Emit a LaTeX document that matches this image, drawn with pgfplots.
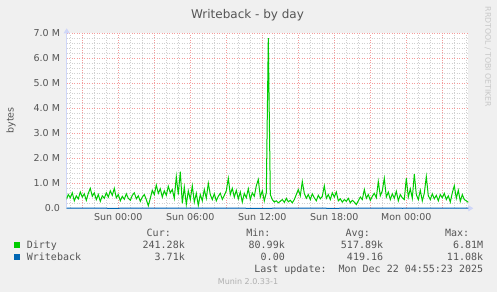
\documentclass[border=0pt]{standalone}
\usepackage{fontspec}
\setmainfont{DejaVu Sans}
\newfontfamily\mono{DejaVu Sans Mono}
\usepackage{pgfplots}
\usepackage{pgfplotstable}
\pgfplotsset{compat=1.18}
\usetikzlibrary{arrows.meta}
\definecolor{bg}{HTML}{F0F0F0}
\definecolor{fg}{HTML}{555555}
\definecolor{axc}{HTML}{CFD6F8}
\definecolor{dirty}{HTML}{00CC00}
\definecolor{wb}{HTML}{0066B3}
\definecolor{majgrid}{HTML}{F49C9C}
\definecolor{mingrid}{HTML}{D0D0D0}

% x = 10-minute steps, Sun 00:00 at 26 ; y in millions of bytes
\pgfplotstableread{
x y
0 0.35
1 0.55
2 0.42
3 0.62
4 0.30
5 0.50
6 0.38
7 0.65
8 0.45
9 0.58
10 0.32
11 0.60
12 0.80
13 0.48
14 0.62
15 0.35
16 0.55
17 0.28
18 0.50
19 0.40
20 0.62
21 0.45
22 0.70
23 0.52
24 0.80
25 0.42
26 0.55
27 0.30
28 0.48
29 0.36
30 0.58
31 0.40
32 0.32
33 0.52
34 0.62
35 0.38
36 0.50
37 0.28
38 0.45
39 0.55
40 0.35
41 0.10
42 0.40
43 0.72
44 0.55
45 0.93
46 0.60
47 0.78
48 0.45
49 0.70
50 0.52
51 0.88
52 0.62
53 0.75
54 0.40
55 1.27
56 0.55
57 1.47
58 0.20
59 0.85
60 0.15
61 0.70
62 0.35
63 0.90
64 0.25
65 0.60
66 0.12
67 0.55
68 0.30
69 0.75
70 0.40
71 1.00
72 0.55
73 0.35
74 0.58
75 0.30
76 0.48
77 0.60
78 0.36
79 0.52
80 0.70
81 1.20
82 0.55
83 0.80
84 0.45
85 0.72
86 0.38
87 0.65
88 0.25
89 0.60
90 0.42
91 0.78
92 0.35
93 0.62
94 0.48
95 0.90
96 1.15
97 0.45
98 0.70
99 0.30
100 0.62
101 6.81
102 0.55
103 0.35
104 0.25
105 0.30
106 0.22
107 0.28
108 0.35
109 0.24
110 0.40
111 0.26
112 0.32
113 0.22
114 0.35
115 0.55
116 0.75
117 0.50
118 1.07
119 0.60
120 0.40
121 0.55
122 0.35
123 0.58
124 0.42
125 0.30
126 0.52
127 0.38
128 0.48
129 0.90
130 0.40
131 0.55
132 0.35
133 0.62
134 0.45
135 0.65
136 0.30
137 0.38
138 0.25
139 0.35
140 0.28
141 0.40
142 0.22
143 0.32
144 0.25
145 0.15
146 0.30
147 0.45
148 0.35
149 0.75
150 0.40
151 0.55
152 0.32
153 0.48
154 0.60
155 0.42
156 1.07
157 0.50
158 0.70
159 1.20
160 0.45
161 0.65
162 0.35
163 0.58
164 0.40
165 0.68
166 0.30
167 0.55
168 0.42
169 0.35
170 1.20
171 0.45
172 0.78
173 0.40
174 1.37
175 0.55
176 0.35
177 0.72
178 0.30
179 0.60
180 1.27
181 0.50
182 0.35
183 0.58
184 0.38
185 0.52
186 0.30
187 0.55
188 0.42
189 0.60
190 0.35
191 0.50
192 0.25
193 0.62
194 0.90
195 0.40
196 0.72
197 0.28
198 0.55
199 0.35
200 0.30
201 0.24
}\dirtytable

\pgfplotstableread{
x y
0 0.0020
12 0.0045
24 0.0010
36 0.0060
48 0.0030
60 0.0110
72 0.0025
84 0.0040
96 0.0000
108 0.0035
120 0.0050
132 0.0015
144 0.0030
156 0.0070
168 0.0020
180 0.0045
192 0.0030
201 0.0037
}\wbtable

\begin{document}
\begin{tikzpicture}[x=1pt,y=1pt]
\fill[bg] (0,0) rectangle (497,292);
\begin{axis}[
  at={(66.7pt,83.7pt)}, anchor=south west,
  scale only axis, width=401.6pt, height=175pt,
  xmin=0.2, xmax=201, ymin=0, ymax=7,
  axis lines=left,
  axis line style={draw=axc, line width=0.8pt},
  x axis line style={-{Triangle[length=5pt,width=6pt]}, shorten >=-5pt},
  y axis line style={-{Triangle[length=5pt,width=6pt]}, shorten >=-5pt},
  xtick={8,26,44,62,80,98,116,134,152,170,188},
  xticklabels={,Sun 00:00,,Sun 06:00,,Sun 12:00,,Sun 18:00,,Mon 00:00,},
  minor xtick={2,14,20,32,38,50,56,68,74,86,92,104,110,122,128,140,146,158,164,176,182,194,200},
  ytick={0,1,2,3,4,5,6,7},
  yticklabels={0.0,1.0 M,2.0 M,3.0 M,4.0 M,5.0 M,6.0 M,7.0 M},
  minor y tick num=4,
  xmajorgrids, ymajorgrids, xminorgrids, yminorgrids,
  major grid style={draw=majgrid, line width=0.8pt, dash pattern=on 1pt off 1.5pt},
  minor grid style={draw=mingrid, line width=0.7pt, dash pattern=on 1pt off 1.5pt},
  major tick length=0pt, minor tick length=0pt,
  ticklabel style={font=\fontsize{9.5}{11}\selectfont, text=fg},
  yticklabel style={inner sep=0pt, xshift=-6.5pt},
  xticklabel style={inner sep=0pt, yshift=-4.5pt},
  axis background/.style={fill=white},
]
\addplot[dirty, line width=1pt, no markers] table[x=x,y=y]{\dirtytable};
\addplot[wb, line width=1pt, no markers] table[x=x,y=y]{\wbtable};
\end{axis}

% title and side texts
\node[anchor=base, inner sep=0, text=fg, font=\fontsize{12}{14}\selectfont] at (247.5,273.5) {Writeback - by day};
\node[rotate=90, inner sep=0, text=fg, font=\fontsize{9.5}{11}\selectfont] at (11,171.5) {bytes};
\node[rotate=-90, inner sep=0, text={rgb,255:red,200;green,200;blue,200}, font=\fontsize{7.8}{9}\selectfont] at (488,235) {RRDTOOL / TOBI OETIKER};

% legend
\begin{scope}[every node/.style={inner sep=0, text=fg, font=\mono\fontsize{10}{12}\selectfont}]
\node[anchor=base east] at (171,55.3) {Cur:};
\node[anchor=base east] at (270.7,55.3) {Min:};
\node[anchor=base east] at (370,55.3) {Avg:};
\node[anchor=base east] at (469.3,55.3) {Max:};
\fill[dirty] (14,44.5) rectangle (19.5,50);
\node[anchor=base west] at (26.7,43.7) {Dirty};
\node[anchor=base east] at (185,43.7) {241.28k};
\node[anchor=base east] at (285,43.7) {80.99k};
\node[anchor=base east] at (383.3,43.7) {517.89k};
\node[anchor=base east] at (483.3,43.7) {6.81M};
\fill[wb] (14,32.5) rectangle (19.5,38);
\node[anchor=base west] at (26.7,32) {Writeback};
\node[anchor=base east] at (185,32) {3.71k};
\node[anchor=base east] at (285,32) {0.00};
\node[anchor=base east] at (383.3,32) {419.16};
\node[anchor=base east] at (483.3,32) {11.08k};
\node[anchor=base east] at (483.3,19.3) {Last update:\ \ Mon Dec 22 04:55:23 2025};
\end{scope}
\node[anchor=base, inner sep=0, text={rgb,255:red,176;green,176;blue,176}, font=\fontsize{8}{9}\selectfont] at (248,8) {Munin 2.0.33-1};
\end{tikzpicture}
\end{document}
